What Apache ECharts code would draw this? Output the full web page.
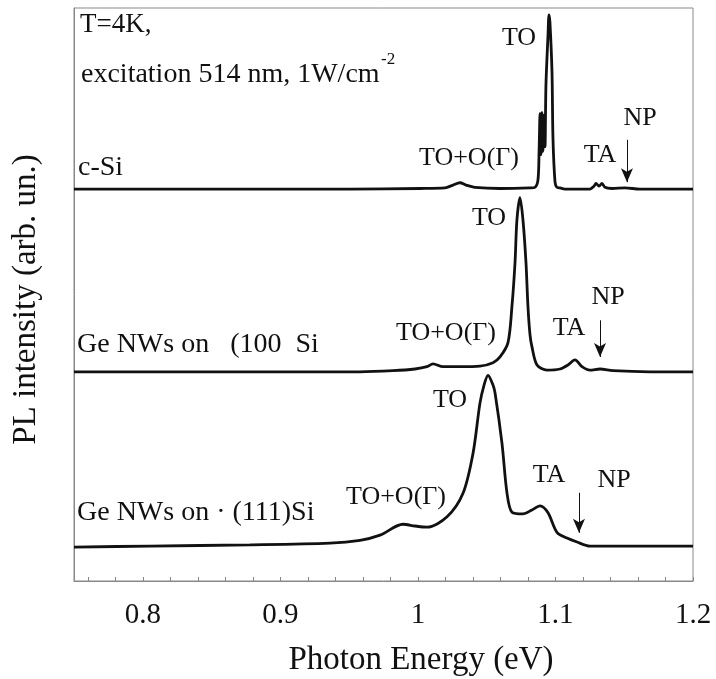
<!DOCTYPE html>
<html>
<head>
<meta charset="utf-8">
<title>PL spectra</title>
<script src="https://cdn.jsdelivr.net/npm/echarts@6/dist/echarts.min.js"></script>
<style>
  html, body { margin: 0; padding: 0; background: #fff; }
  #main { width: 716px; height: 679px; }
</style>
</head>
<body>
<div id="main"></div>
<script>
// photon energy (eV) and PL intensity above each trace's own baseline (arb. un.)
var cSiEnergy = [0.75, 0.8052, 0.8779, 0.9506, 1.0015, 1.0197, 1.0255, 1.0306, 1.0350, 1.0415,
  1.0597, 1.0815, 1.0851, 1.0873, 1.0881, 1.0888, 1.0895, 1.0902, 1.0909, 1.0917, 1.0924, 1.0931,
  1.0946, 1.0953, 1.0960, 1.0975, 1.0982, 1.0997, 1.1011, 1.1033, 1.1069, 1.1251,
  1.1280, 1.1295, 1.1317, 1.1338, 1.1360, 1.1411, 1.1506, 1.1615, 1.2];
var cSiPL = [0, 0, 0, 0, 0.1, 0.2, 0.7, 1.1, 0.7, 0.3,
  0.1, 0.2, 0.3, 1.6, 6.5, 13.2, 6.0, 13.4, 6.6, 12.9, 7.4, 18.2,
  26.9, 30.4, 29.1, 20.4, 8.9, 1.2, 0.3, 0.2, 0, 0,
  0.5, 1.0, 0.5, 1.0, 0.3, 0.1, 0.2, 0, 0];

var nw100Energy = [0.75, 0.8416, 0.9143, 0.9579, 0.9819, 0.9979, 1.0066, 1.0110, 1.0182, 1.0306,
  1.0451, 1.0546, 1.0597, 1.0655, 1.0684, 1.0706, 1.0720, 1.0742, 1.0764, 1.0786,
  1.0800, 1.0815, 1.0829, 1.0866, 1.0939, 1.1033, 1.1091, 1.1142, 1.1193, 1.1251,
  1.1324, 1.1418, 1.1687, 1.2];
var nw100PL = [0, 0, 0, 0, 0.2, 0.5, 0.9, 1.4, 0.9, 0.9,
  1.0, 1.6, 2.6, 5.1, 11.5, 19.0, 26.5, 30.4, 26.5, 19.0,
  11.5, 6.5, 4.4, 1.2, 0.3, 0.5, 1.2, 2.1, 0.9, 0.3,
  0.5, 0.2, 0, 0];

var nw111Energy = [0.75, 0.8052, 0.8779, 0.9361, 0.9579, 0.9725, 0.9892, 0.9979, 1.0066, 1.0212,
  1.0328, 1.0401, 1.0451, 1.0481, 1.0510, 1.0546, 1.0561, 1.0611, 1.0648, 1.0684,
  1.0764, 1.0829, 1.0888, 1.0946, 1.1011, 1.1084, 1.1157, 1.1251, 1.2];
var nw111PL = [-0.2, 0, 0.2, 0.5, 1.0, 1.9, 3.8, 3.5, 3.3, 5.1,
  9.2, 16.2, 24.9, 28.1, 29.8, 28.1, 26.7, 18.0, 9.2, 5.9,
  5.6, 6.3, 7.0, 5.8, 2.4, 1.4, 0.7, 0, 0];

// vertical offsets of the stacked traces
var traceOffsets = [68.4, 36.5, 6.1];

// NP arrows: energy, arrow tail and tip height above baseline
var npArrowEnergy = [1.152, 1.1324, 1.1171];
var npArrowTail = [8.6, 9.0, 9.3];
var npArrowTip = [1.2, 2.6, 2.3];

var xLabelValues = [0.8, 0.9, 1, 1.1, 1.2];
var xTickValues = [0.76, 0.78, 0.8, 0.82, 0.84, 0.86, 0.88, 0.9, 0.92, 0.94, 0.96, 0.98,
  1, 1.02, 1.04, 1.06, 1.08, 1.1, 1.12, 1.14, 1.16, 1.18, 1.2];

var serif = '"Liberation Serif", "Times New Roman", serif';

function toPairs(xs, ys, off) {
  return xs.map(function (x, i) { return [x, ys[i] + off]; });
}

function makeTrace(name, xs, ys, k) {
  var off = traceOffsets[k];
  return {
    name: name,
    type: 'line',
    data: toPairs(xs, ys, off),
    showSymbol: false,
    smooth: 0.3,
    lineStyle: { color: '#111', width: 2.8 },
    markLine: {
      silent: true,
      symbol: ['none', 'arrow'],
      symbolSize: [9, 14],
      lineStyle: { color: '#111', width: 1, type: 'solid' },
      label: { show: false },
      data: [[
        { coord: [npArrowEnergy[k], npArrowTail[k] + off] },
        { coord: [npArrowEnergy[k], npArrowTip[k] + off] }
      ]]
    }
  };
}

// text annotations (pixel positions)
function txt(s, x, y, size, align) {
  return {
    type: 'text', x: x, y: y, silent: true,
    style: {
      text: s, fill: '#111', fontSize: size, fontFamily: serif,
      align: align || 'center', verticalAlign: 'middle'
    }
  };
}

var chart = echarts.init(document.getElementById('main'));
chart.setOption({
  backgroundColor: '#fff',
  animation: false,
  grid: {
    left: 74, right: 23, top: 8, bottom: 98,
    outerBoundsMode: 'none',
    show: true, borderColor: '#888', borderWidth: 1
  },
  xAxis: {
    type: 'value',
    min: 0.75,
    max: 1.2,
    name: 'Photon Energy (eV)',
    nameLocation: 'middle',
    nameGap: 63,
    nameTextStyle: { color: '#111', fontSize: 33, fontFamily: serif, padding: [0, 0, 0, 75] },
    axisLine: { lineStyle: { color: '#888', width: 1 } },
    axisTick: { inside: true, length: 4, customValues: xTickValues, lineStyle: { color: '#888' } },
    axisLabel: { customValues: xLabelValues, color: '#111', fontSize: 29, fontFamily: serif, margin: 20 },
    splitLine: { show: false }
  },
  yAxis: {
    type: 'value',
    min: 0,
    max: 100,
    name: 'PL intensity (arb. un.)',
    nameLocation: 'middle',
    nameGap: 31,
    nameTextStyle: { color: '#111', fontSize: 33, fontFamily: serif, padding: [0, 10, 0, 0] },
    axisLine: { show: true, lineStyle: { color: '#888', width: 1 } },
    axisTick: { show: false },
    axisLabel: { show: false },
    splitLine: { show: false }
  },
  series: [
    makeTrace('c-Si', cSiEnergy, cSiPL, 0),
    makeTrace('Ge NWs on (100) Si', nw100Energy, nw100PL, 1),
    makeTrace('Ge NWs on (111) Si', nw111Energy, nw111PL, 2)
  ],
  graphic: [
    txt('T=4K,', 80, 25, 27, 'left'),
    txt('excitation 514 nm, 1W/cm', 81, 75, 28, 'left'),
    txt('-2', 381, 60, 17, 'left'),
    txt('c-Si', 78, 168, 28, 'left'),
    txt('Ge NWs on   (100  Si', 77, 345, 28, 'left'),
    txt('Ge NWs on \u00b7 (111)Si', 77, 513, 28, 'left'),
    // c-Si peaks
    txt('TO', 519, 38, 26),
    txt('TO+O(\u0393)', 469, 158, 26),
    txt('TA', 600, 155, 26),
    txt('NP', 640, 118, 26),
    // (100) peaks
    txt('TO', 489, 218, 26),
    txt('TO+O(\u0393)', 446, 333, 26),
    txt('TA', 569, 328, 26),
    txt('NP', 608, 297, 26),
    // (111) peaks
    txt('TO', 450, 400, 26),
    txt('TO+O(\u0393)', 396, 497, 26),
    txt('TA', 549, 475, 26),
    txt('NP', 614, 480, 26)
  ]
});
</script>
</body>
</html>
